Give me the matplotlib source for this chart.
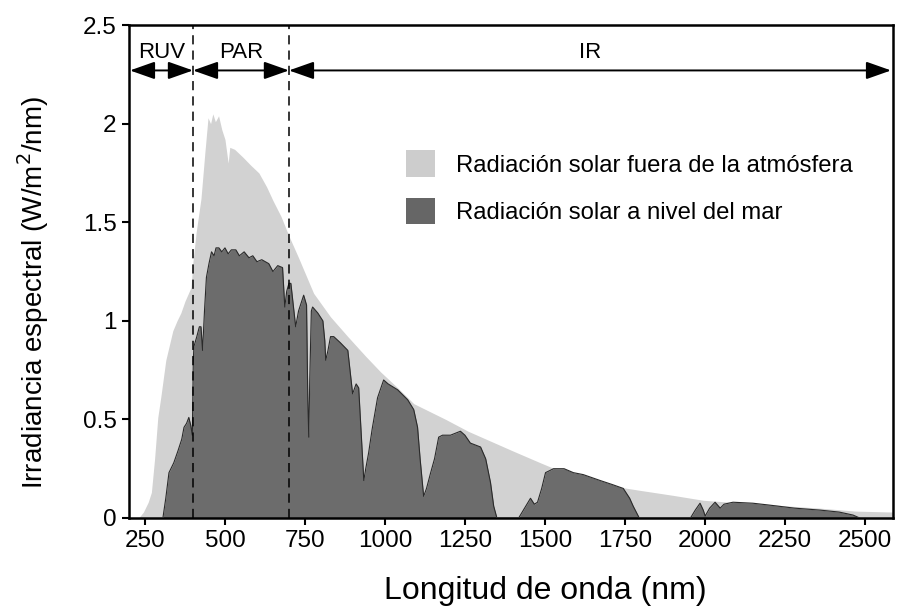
import matplotlib
matplotlib.use('Agg')
import matplotlib.pyplot as plt
from matplotlib.patches import Patch

# ---------------- data ----------------
ext_wl = [230, 245, 260, 270, 280, 290, 300, 315, 337, 350, 362, 375, 394, 400, 410,
          425, 437, 447, 455, 462, 470, 480, 490, 500, 510, 515, 530, 556, 580, 606,
          630, 650, 675, 700, 730, 777, 830, 884, 940, 987, 1040, 1090, 1140, 1190,
          1260, 1330, 1400, 1486, 1560, 1642, 1720, 1798, 1839, 1900, 1995, 2080,
          2150, 2250, 2360, 2470, 2590]
ext_val = [0.0, 0.03, 0.08, 0.13, 0.30, 0.51, 0.62, 0.80, 0.95, 1.00, 1.04, 1.10, 1.17,
           1.30, 1.45, 1.62, 1.85, 2.03, 2.00, 2.05, 2.01, 2.04, 1.97, 1.92, 1.80, 1.88,
           1.87, 1.83, 1.79, 1.75, 1.68, 1.61, 1.53, 1.43, 1.32, 1.14, 1.02, 0.92, 0.82,
           0.74, 0.66, 0.58, 0.54, 0.50, 0.44, 0.39, 0.34, 0.28, 0.23, 0.19, 0.16, 0.14,
           0.13, 0.115, 0.09, 0.08, 0.075, 0.062, 0.05, 0.035, 0.03]

sea_wl = [306, 315, 325, 340, 353, 365, 372, 380, 387, 393, 398, 401, 403, 412, 420,
          425, 430, 436, 442, 450, 458, 466, 472, 481, 490, 500, 510, 520, 534, 545,
          560, 575, 587, 600, 615, 637, 650, 665, 680, 687, 693, 700, 706, 712, 721,
          730, 746, 755, 759, 762, 765, 770, 774, 790, 806, 812, 815, 822, 830, 840,
          860, 884, 893, 899, 910, 918, 925, 934, 940, 949, 960, 977, 996, 1010, 1040,
          1071, 1090, 1102, 1110, 1121, 1130, 1143, 1155, 1168, 1180, 1205, 1236, 1250,
          1267, 1299, 1315, 1330, 1340, 1350, 1418, 1440, 1455, 1467, 1477, 1490, 1502,
          1527, 1560, 1589, 1620, 1673, 1710, 1745, 1765, 1776, 1795, 1955, 1970, 1985,
          1995, 2001, 2015, 2032, 2048, 2060, 2088, 2150, 2204, 2280, 2360, 2420, 2463,
          2484]
sea_val = [0.0, 0.10, 0.23, 0.28, 0.34, 0.40, 0.46, 0.48, 0.51, 0.47, 0.42, 0.80, 0.87,
           0.92, 0.97, 0.97, 0.85, 1.05, 1.22, 1.29, 1.35, 1.33, 1.37, 1.37, 1.35, 1.37,
           1.34, 1.36, 1.36, 1.33, 1.35, 1.32, 1.33, 1.30, 1.31, 1.29, 1.25, 1.28, 1.27,
           1.07, 1.15, 1.19, 1.19, 1.10, 0.97, 1.05, 1.13, 1.08, 0.60, 0.41, 0.70, 1.05,
           1.07, 1.04, 1.00, 0.90, 0.80, 0.85, 0.92, 0.92, 0.89, 0.85, 0.72, 0.63, 0.68,
           0.66, 0.45, 0.19, 0.25, 0.33, 0.45, 0.61, 0.70, 0.68, 0.65, 0.60, 0.55, 0.46,
           0.30, 0.11, 0.15, 0.23, 0.30, 0.41, 0.42, 0.42, 0.44, 0.42, 0.38, 0.36, 0.30,
           0.18, 0.06, 0.0, 0.0, 0.06, 0.10, 0.07, 0.08, 0.15, 0.23, 0.25, 0.25, 0.23,
           0.22, 0.19, 0.17, 0.15, 0.10, 0.06, 0.0, 0.0, 0.04, 0.075, 0.04, 0.01, 0.05,
           0.08, 0.05, 0.07, 0.08, 0.075, 0.065, 0.05, 0.04, 0.03, 0.015, 0.0]

band_edges = [203, 400, 700, 2582]
band_labels = ['RUV', 'PAR', 'IR']
legend_labels = ['Radiación solar fuera de la atmósfera', 'Radiación solar a nivel del mar']
x_ticks = [250, 500, 750, 1000, 1250, 1500, 1750, 2000, 2250, 2500]
y_ticks = [0, 0.5, 1, 1.5, 2, 2.5]
y_ticklabels = ['0', '0.5', '1', '1.5', '2', '2.5']

# ---------------- plot ----------------
plt.rcParams['font.family'] = ['Liberation Sans', 'DejaVu Sans']
light = '#d2d2d2'
dark = '#6c6c6c'

fig = plt.figure(figsize=(8.97, 6.12), dpi=100)
ax = fig.add_axes([0.1438, 0.1536, 0.8517, 0.8054])

ax.fill_between(ext_wl, ext_val, color=light, lw=0, zorder=1)
ax.fill_between(sea_wl, sea_val, color=dark, lw=0, zorder=2)
ax.plot(sea_wl, sea_val, color='#2a2a2a', lw=0.8, zorder=3)

for xv in band_edges[1:3]:
    ax.axvline(xv, color='black', lw=1.1, linestyle=(0, (6, 4)), zorder=4)

y_arrow = 2.27
for i, lab in enumerate(band_labels):
    a, b = band_edges[i], band_edges[i + 1]
    ax.annotate('', xy=(b, y_arrow), xytext=(a, y_arrow),
                arrowprops=dict(arrowstyle='<|-|>,head_length=0.85,head_width=0.3',
                                mutation_scale=18, color='black', lw=1.4,
                                shrinkA=0, shrinkB=0), zorder=5)
    ax.text((a + b) / 2, 2.36, lab, ha='center', va='center', fontsize=16, zorder=5)

ax.set_xlim(200, 2588)
ax.set_ylim(0, 2.5)
ax.set_xticks(x_ticks)
ax.set_yticks(y_ticks)
ax.set_yticklabels(y_ticklabels)
ax.tick_params(direction='out', length=5, width=1.5, labelsize=17.5, pad=4)
for s in ax.spines.values():
    s.set_linewidth(1.8)

ax.set_xlabel('Longitud de onda (nm)', fontsize=23)
ax.set_ylabel('Irradiancia espectral (W/m$^2$/nm)', fontsize=20)
ax.xaxis.set_label_coords(0.545, -0.117)
ax.yaxis.set_label_coords(-0.1015, 0.457)

handles = [Patch(facecolor='#cdcdcd', edgecolor='none'),
           Patch(facecolor='#666666', edgecolor='none')]
ax.legend(handles, legend_labels, loc='upper left', bbox_to_anchor=(0.35, 0.765),
          frameon=False, fontsize=17.2, handlelength=1.2, handleheight=1.35,
          labelspacing=0.85, handletextpad=0.9, borderaxespad=0)

fig.savefig('out.png', dpi=100)
